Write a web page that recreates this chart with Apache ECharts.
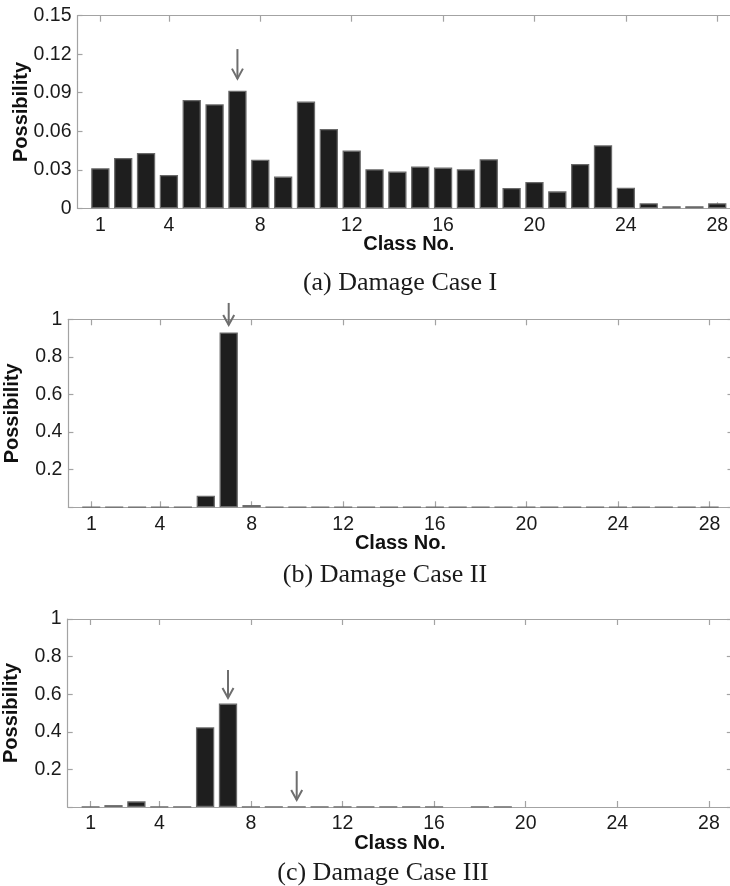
<!DOCTYPE html>
<html>
<head>
<meta charset="utf-8">
<script src="https://cdn.jsdelivr.net/npm/echarts@6/dist/echarts.min.js"></script>
<style>
html,body{margin:0;padding:0;background:#fff;}
#chart{width:730px;height:886px;}
</style>
</head>
<body>
<div id="chart"></div>
<script>
// ---- data ----
const classes = [1,2,3,4,5,6,7,8,9,10,11,12,13,14,15,16,17,18,19,20,21,22,23,24,25,26,27,28];
const caseI = [0.0312,0.0392,0.0431,0.0260,0.0844,0.0810,0.0916,0.0379,0.0247,0.0831,0.0618,0.0450,0.0304,0.0286,0.0325,0.0317,0.0304,0.0382,0.0158,0.0205,0.0132,0.0345,0.0491,0.0161,0.0039,0.0016,0.0016,0.0039];
const caseII = [0.001,0.001,0.001,0.001,0.001,0.062,0.930,0.012,0.001,0.001,0.001,0.001,0.001,0.001,0.001,0.001,0.001,0.001,0.001,0.001,0.001,0.001,0.001,0.001,0.001,0.001,0.001,0.001];
const caseIII = [0.002,0.010,0.030,0.001,0.001,0.424,0.550,0.001,0.001,0.001,0.001,0.001,0.001,0.001,0.001,0.001,0,0.001,0.001,0,0,0,0,0,0,0,0,0];
const xTickLabels = [1,4,8,12,16,20,24,28];
const yTicksI = [0,0.03,0.06,0.09,0.12,0.15];
const yTicksII = [0,0.2,0.4,0.6,0.8,1];
const yTicksIII = [0,0.2,0.4,0.6,0.8,1];
// arrows: [class, tail value, tip value]
const arrowsI = [[7,0.124,0.101]];
const arrowsII = [[7,1.087,0.97]];
const arrowsIII = [[7,0.729,0.58],[10,0.191,0.037]];
const subtitles = ['(a) Damage Case I','(b) Damage Case II','(c) Damage Case III'];

// ---- layout ----
const grids = [
  {left:77.5, top:15.7, width:662.6, height:192.6},
  {left:68.4, top:319.3, width:664.1, height:188},
  {left:67.7, top:619, width:664.1, height:188}
];
const subPos = [[400,283],[385,575],[383,873]];
const panels = [
  {vals:caseI, yTicks:yTicksI, ymax:0.15, arrows:arrowsI, showZero:true},
  {vals:caseII, yTicks:yTicksII, ymax:1, arrows:arrowsII, showZero:false},
  {vals:caseIII, yTicks:yTicksIII, ymax:1, arrows:arrowsIII, showZero:false}
];

const axisGray = '#a3a3a3';
const textCol = '#1a1a1a';
const tickFont = {fontFamily:'"Liberation Sans Narrow", "Arial Narrow", "Liberation Sans"', fontSize:19.5, color:textCol};
const nameFont = {fontFamily:'Liberation Sans', fontSize:20, fontWeight:'bold', color:'#111'};

const xAxes = [], yAxes = [], series = [];
panels.forEach((p, i) => {
  xAxes.push({
    type:'value', gridIndex:i, position:'bottom', min:0, max:29,
    name:'Class No.', nameLocation:'middle', nameGap:26, nameMoveOverlap:false,
    nameTextStyle:Object.assign({verticalAlign:'top'}, nameFont),
    axisLine:{show:true, onZero:false, lineStyle:{color:axisGray, width:1.2}},
    axisTick:{show:true, inside:true, length:6, customValues:xTickLabels, lineStyle:{color:axisGray, width:1.2}},
    axisLabel:Object.assign({show:true, margin:7, customValues:xTickLabels}, tickFont),
    splitLine:{show:false}
  });
  xAxes.push({
    type:'value', gridIndex:i, position:'top', min:0, max:29,
    axisLine:{show:true, onZero:false, lineStyle:{color:axisGray, width:1.2}},
    axisTick:{show:true, inside:true, length:6, customValues:xTickLabels, lineStyle:{color:axisGray, width:1.2}},
    axisLabel:{show:false}, splitLine:{show:false}
  });
  yAxes.push({
    type:'value', gridIndex:i, position:'left', min:0, max:p.ymax,
    name:'Possibility', nameLocation:'middle', nameGap:46, nameRotate:90, nameMoveOverlap:false,
    nameTextStyle:nameFont,
    axisLine:{show:true, onZero:false, lineStyle:{color:axisGray, width:1.2}},
    axisTick:{show:true, inside:true, length:5, customValues:p.yTicks, lineStyle:{color:axisGray, width:1.2}},
    axisLabel:Object.assign({show:true, margin:6, customValues:p.yTicks,
      formatter:(v)=> (v===0 && !p.showZero) ? '' : String(+v.toFixed(2))}, tickFont),
    splitLine:{show:false}
  });
  yAxes.push({
    type:'value', gridIndex:i, position:'right', min:0, max:p.ymax,
    axisLine:{show:true, onZero:false, lineStyle:{color:axisGray, width:1.2}},
    axisTick:{show:true, inside:true, length:5, customValues:p.yTicks, lineStyle:{color:axisGray, width:1.2}},
    axisLabel:{show:false}, splitLine:{show:false}
  });
  series.push({
    type:'bar', xAxisIndex:2*i, yAxisIndex:2*i, barWidth:18.3,
    itemStyle:{color:'#1e1e1e', borderColor:'#6a6a6a', borderWidth:1.3},
    data: classes.map((c, k) => p.vals[k] === 0
      ? {value:[c, 0], itemStyle:{borderWidth:0}}
      : {value:[c, p.vals[k]]}),
    animation:false, silent:true
  });
  series.push({
    type:'custom', xAxisIndex:2*i, yAxisIndex:2*i, clip:false, silent:true, animation:false,
    data: p.arrows,
    renderItem:(params, api) => {
      const x = api.value(0);
      const a = api.coord([x, api.value(1)]);
      const b = api.coord([x, api.value(2)]);
      const st = {stroke:'#6e6e6e', lineWidth:2, fill:null};
      return {type:'group', children:[
        {type:'line', shape:{x1:a[0], y1:a[1], x2:b[0], y2:b[1]}, style:st},
        {type:'polyline', shape:{points:[[b[0]-5.5, b[1]-10],[b[0], b[1]],[b[0]+5.5, b[1]-10]]}, style:st}
      ]};
    }
  });
});

const graphic = subtitles.map((t, i) => ({
  type:'text', x:subPos[i][0], y:subPos[i][1], silent:true,
  style:{text:t, x:0, y:0, align:'center', verticalAlign:'middle',
    font:'26px "Liberation Serif"', fill:'#1a1a1a'}
}));

const chart = echarts.init(document.getElementById('chart'), null, {renderer:'canvas'});
chart.setOption({
  backgroundColor:'#fff',
  animation:false,
  grid: grids.map(g => Object.assign({outerBoundsMode:'none', containLabel:false}, g)),
  xAxis:xAxes,
  yAxis:yAxes,
  series:series,
  graphic:graphic
});
</script>
</body>
</html>
